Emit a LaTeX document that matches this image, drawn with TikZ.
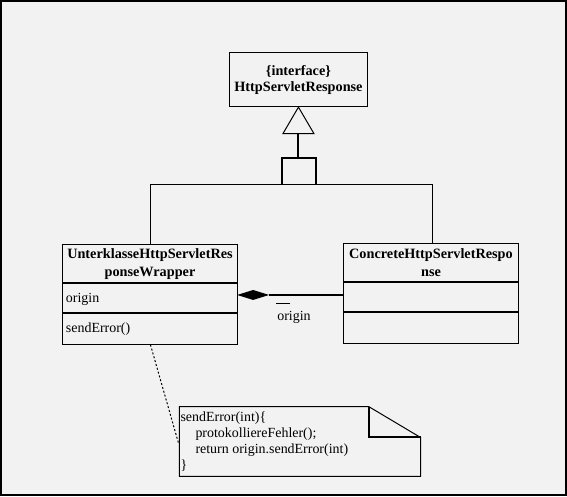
\documentclass[tikz,border=0pt]{standalone}
\usepackage{fontspec}
\setmainfont{Liberation Serif}
\definecolor{bg}{HTML}{F2F2F2}
\begin{document}
\begin{tikzpicture}[x=1pt,y=-1pt,
  thinl/.style={line width=1pt},
  thickl/.style={line width=2pt},
  classbox/.style={draw,line width=1pt,rectangle,inner sep=0pt,minimum width=175pt,minimum height=101pt},
  txt/.style={inner sep=0pt,font=\fontsize{14}{16}\selectfont},
  btxt/.style={inner sep=0pt,font=\fontsize{14.3}{16}\selectfont\bfseries,align=center}]
\fill[bg,draw=black,line width=2pt] (0,0) rectangle (567,496);
\useasboundingbox (0,0) rectangle (567,496);
% interface
\node[draw,thinl,rectangle,inner sep=0pt,minimum width=139pt,minimum height=54pt,btxt,align=center] (iface) at (298.5,79) {\{interface\}\\[0pt]HttpServletResponse};
% generalization
\coordinate (tl) at (283,133);
\coordinate (tr) at (314,133);
\coordinate (tb) at (298.5,133);
\coordinate (s1) at (298.5,158);
\coordinate (s2) at (282,158);
\coordinate (s3) at (316,158);
\coordinate (s4) at (282,184);
\coordinate (s5) at (316,184);
\coordinate (hl) at (150,184);
\coordinate (hr) at (433,184);
\draw[thinl,fill=bg] (iface.south) -- (tl) -- (tr) -- cycle;
\draw[thickl] (tb) -- (s1);
\draw[thickl] (s4) -- (s2) -- (s3) -- (s5);
\draw[thinl] (hl) -- (hr);
% classes
\node[classbox] (left) at (149.5,294.5) {};
\node[classbox] (right) at (431.5,293.5) {};
\draw[thinl] (hl) -- (left.north -| hl);
\draw[thinl] (hr) -- (right.north -| hr);
\draw[thickl] (62,283) -- (237,283);
\draw[thickl] (62,313) -- (237,313);
\draw[thickl] (344,282) -- (519,282);
\draw[thickl] (344,312) -- (519,312);
\node[btxt] (lname) at (149.5,264) {UnterklasseHttpServletRes\\[2pt]ponseWrapper};
\node[btxt] (rname) at (431.5,263) {ConcreteHttpServletRespo\\[2pt]nse};
\node[txt,anchor=west] (attr) at (65,299) {origin};
\node[txt,anchor=west] (meth) at (65,329) {sendError()};
% composition
\coordinate (dl) at (237,295);
\coordinate (dr) at (269,295);
\fill (dl) -- (253,290) -- (dr) -- (253,300) -- cycle;
\draw[thickl] (dr) -- (right.west |- dr);
\draw[line width=0.8pt] (276,303) -- (290,303);
\node[txt] (role) at (294,318) {origin};
% note
\coordinate (n1) at (179,407);
\coordinate (n2) at (369,407);
\coordinate (n3) at (421,438);
\coordinate (n4) at (421,477);
\coordinate (n5) at (179,477);
\coordinate (nf) at (369,438);
\coordinate (nc) at (178.5,445);
\coordinate (mc) at (150,345);
\draw[thinl,fill=bg] (n1) -- (n2) -- (n3) -- (n4) -- (n5) -- cycle;
\draw[thickl] (n2) -- (nf) -- (n3);
\draw[thinl,dash pattern=on 2pt off 2pt] (mc) -- (nc);
\node[txt,anchor=north west,align=left,font=\fontsize{14}{16}\selectfont] (notetext) at (180,412) {sendError(int)\{\\\hspace*{15pt}protokolliereFehler();\\\hspace*{15pt}return origin.sendError(int)\\\}};
\end{tikzpicture}
\end{document}
